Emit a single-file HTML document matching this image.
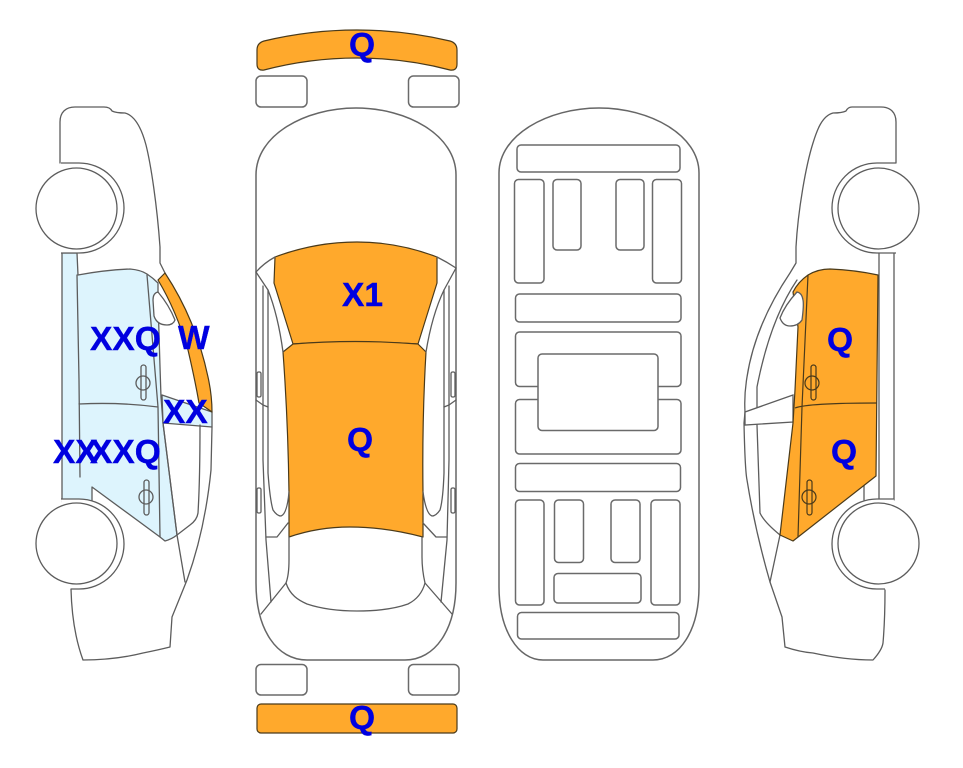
<!DOCTYPE html>
<html><head><meta charset="utf-8"><style>
html,body{margin:0;padding:0;background:#fff;width:963px;height:768px;overflow:hidden}
svg{display:block}
text{font-family:"Liberation Sans",Arial,sans-serif;font-weight:bold;font-size:33.5px;fill:#0000E0;stroke:#0000E0;stroke-width:.4}
.l{fill:none;stroke:#5c5c5c;stroke-width:1.3;stroke-linejoin:round;stroke-linecap:round}
.w{fill:#fff;stroke:#5c5c5c;stroke-width:1.3}
.b{fill:#DDF4FD;stroke:#5c5c5c;stroke-width:1.3;stroke-linejoin:round}
.o{fill:#FFA92C;stroke:#4a3a1a;stroke-width:1.2;stroke-linejoin:round}
.r rect{fill:#fff;stroke:#6a6a6a;stroke-width:1.5}
.d{fill:none;stroke:#4a3a1a;stroke-width:1.2}
</style></head><body>
<svg width="963" height="768" viewBox="0 0 963 768" xmlns="http://www.w3.org/2000/svg">

<!-- LEFT CAR -->
<path class="l" d="M60 163V122C60 112 66 107 75 107H104Q110 107 112 111Q116 113 125 113C136 116 142 130 146 145C151 165 157 205 160 247V263L165 273"/>
<path class="l" d="M71 589Q72 630 83 660Q115 660 143 653Q158 650 170 647L172 617L187 580Q205 530 211 470L212 427"/>
<path class="b" d="M62 253H77L78 275Q105 270 130 269Q141 270 147 274Q153 278 158 283L158 300L160 367L161 397L163 423L177 535Q172 539 165 541L160 537L92 487V502H62Z"/>
<path class="b" d="M162 395L212 412V427L163 423Z"/>
<path class="o" d="M158 280L165 273Q196 320 208 377Q212 395 212 412L199 403Q195 380 188 350Q176 310 158 280Z"/>
<path class="w" d="M158 292Q153 293 153 300L154 316Q157 325 167 325Q173 325 175 320Q169 305 158 292Z"/>
<path class="l" d="M147 275L158 407L160 537M79 404Q120 402 158 407M79 380L77 275M80 477L79 380"/>
<path class="l" d="M200 425Q200 480 198 513Q197 520 190 525L177 535M163 423L177 535L185 582"/>
<rect class="l" x="141" y="365" width="5" height="35" rx="2.5"/><ellipse class="l" cx="143" cy="383" rx="7" ry="7"/>
<rect class="l" x="144" y="480" width="5" height="35" rx="2.5"/><ellipse class="l" cx="146" cy="497" rx="7" ry="7"/>
<path class="w" d="M61 163H79A45 45 0 0 1 79 253H61"/>
<path class="w" d="M61 499H79A45 45 0 0 1 79 589H71"/>
<circle class="w" cx="76.5" cy="208.5" r="40.5"/>
<circle class="w" cx="76.5" cy="543.5" r="40.5"/>

<!-- TOP VIEW -->
<path class="o" d="M257 50Q257 43 264 41Q310 30 357 30Q404 30 450 41Q457 43 457 50V64Q457 71 450 70Q404 58 357 58Q310 58 264 70Q257 71 257 64Z"/>
<g class="r">
<rect x="256" y="76" width="51" height="31" rx="5"/><rect x="408.500" y="76" width="50.500" height="31" rx="5"/>
<rect x="256" y="664.500" width="51" height="30.500" rx="5"/><rect x="408.500" y="664.500" width="50.500" height="30.500" rx="5"/>
</g>
<rect x="257" y="704" width="200" height="29" rx="4" class="o"/>
<path class="w" style="stroke:#666;stroke-width:1.5" d="M256 175C256 135 305 108 356 108C407 108 456 135 456 175V583C456 630 435 660 405 660H307C277 660 256 630 256 583Z"/>
<path class="o" d="M275 257Q315 242 357 242Q398 242 437 257L437 283L418 344Q355 340 293 344L274 283Z"/>
<path class="o" d="M293 344Q355 339 418 344L426 352Q422 420 423 493V537Q385 527 350 527Q318 527 289 537V493Q288 420 283 352Z"/>
<path class="l" d="M256 272Q264 263 275 257M456 268Q447 262 437 257"/>
<path class="l" d="M256 272L268 290Q278 315 283 352M456 268L444 290Q432 315 426 352"/>
<path class="l" d="M263 286V460L266 540L271 602M268 290V473Q270 500 273 510Q277 516 281 516Q287 514 289 492M449 286V460L447 540L441 602M444 290V473Q443 500 440 510Q436 516 432 516Q426 514 423 492"/>
<path class="l" d="M289 537V560Q289 575 286 583C290 595 298 600 307 604C322 609 340 611 357 611C375 611 394 609 408 604C416 600 422 594 425 583Q422 570 422 557V537"/>
<path class="l" d="M286 583L261 614M425 583L452 614"/>
<path class="l" d="M256 400L263 405L268 407M456 400L449 405L444 407M266 537H277L288 523M447 537H436L423 523"/>
<rect class="l" x="257" y="372" width="4" height="25" rx="1.500"/><rect class="l" x="451" y="372" width="4" height="25" rx="1.500"/>
<rect class="l" x="257" y="488" width="4" height="25" rx="1.500"/><rect class="l" x="451" y="488" width="4" height="25" rx="1.500"/>

<!-- UNDERBODY -->
<path class="w" style="stroke:#666;stroke-width:1.5" d="M499 173C499 135 548 108 599 108C650 108 699 135 699 173V587C699 630 680 660 653 660H543C518 660 499 630 499 587Z"/>
<g class="r">
<rect x="517" y="145" width="163" height="27" rx="4"/>
<rect x="514.500" y="179.500" width="29.500" height="103.500" rx="4"/>
<rect x="553" y="179.500" width="28" height="70.500" rx="4"/>
<rect x="616" y="179.500" width="28" height="70.500" rx="4"/>
<rect x="652.500" y="179.500" width="29" height="103.500" rx="4"/>
<rect x="515.500" y="294" width="165.500" height="28" rx="4"/>
<rect x="515.500" y="332" width="165.500" height="54.500" rx="4"/>
<rect x="515.500" y="399.500" width="165.500" height="54.500" rx="4"/>
<rect x="538" y="354" width="120" height="76.500" rx="4"/>
<rect x="515.500" y="463.500" width="165" height="28" rx="4"/>
<rect x="515.500" y="500" width="28.500" height="105" rx="4"/>
<rect x="554.500" y="500" width="29" height="62.500" rx="4"/>
<rect x="611" y="500" width="29" height="62.500" rx="4"/>
<rect x="651" y="500" width="29" height="105" rx="4"/>
<rect x="554" y="573.500" width="87" height="29.500" rx="4"/>
<rect x="517.500" y="612.500" width="161.500" height="26.500" rx="4"/>
</g>

<!-- RIGHT CAR -->
<path class="l" d="M896 163V122C896 112 890 107 881 107H852Q848 107 846 111Q842 113 833 113C822 116 817 130 813 143C806 165 798 210 796 247V263L790 273Q755 325 747 377Q744 395 745 412L744 423Q745 470 747 480Q755 530 770 582L782 617L785 647Q800 652 813 653Q845 660 873 660Q882 650 883 643Q885 620 885 590"/>
<path class="l" d="M797 280Q770 320 757 387V425L760 513Q764 522 780 535L770 582"/>
<path class="w" d="M793 395L745 412V425L793 422Z"/>
<path class="l" d="M879 253V500M894 253V500M864 482V500"/>
<path class="o" d="M878 275Q855 270 830 269Q818 269 808 275Q798 282 793 292L798 327L795 390L793 423L780 535L793 541L876 476Z"/>
<path class="w" d="M797 292Q785 305 780 318Q783 326 790 326Q798 326 802 320Q804 305 803 300Q802 293 797 292Z"/>
<path class="d" d="M808 275L802 407L798 537M795 408Q808 403 877 403"/>
<rect class="d" x="811" y="365" width="5" height="35" rx="2.500"/><ellipse class="d" cx="812" cy="383" rx="7" ry="7"/>
<rect class="d" x="807" y="480" width="5" height="35" rx="2.500"/><ellipse class="d" cx="809" cy="497" rx="7" ry="7"/>
<path class="w" d="M896 163H877A45 45 0 0 0 877 253H896"/>
<path class="w" d="M894 499H877A45 45 0 0 0 877 589H885"/>
<circle class="w" cx="878.500" cy="208.500" r="40.500"/>
<circle class="w" cx="878.500" cy="543.500" r="40.500"/>

<!-- LABELS -->
<text x="349" y="56">Q</text>
<text x="342" y="306">X1</text>
<text x="347" y="451">Q</text>
<text x="349" y="729">Q</text>
<text x="90" y="350">XXQ</text>
<text x="178" y="349">W</text>
<text x="163" y="423">XX</text>
<text x="53" y="463">XX</text>
<text x="90" y="463">XXQ</text>
<text x="827" y="351">Q</text>
<text x="831" y="463">Q</text>
</svg>
</body></html>
